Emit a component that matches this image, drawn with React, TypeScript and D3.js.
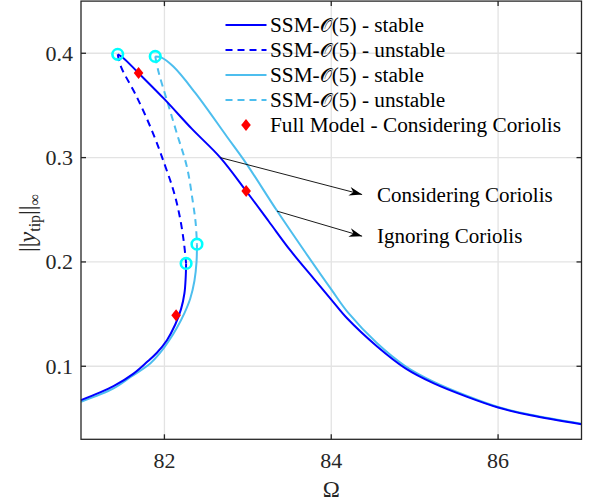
import React from 'react';
import * as d3 from 'd3';

// Omega / ||y_tip|| pairs
const blueStable: [number, number][] = [
  [81.44, 0.399], [81.5, 0.396], [81.69, 0.381], [82.0, 0.356], [82.33, 0.3275],
  [82.67, 0.3], [82.98, 0.268], [83.25, 0.239], [83.51, 0.211], [83.79, 0.184],
  [84.01, 0.163], [84.19, 0.146], [84.55, 0.119], [84.89, 0.098], [85.23, 0.0836],
  [85.63, 0.0707], [86.0, 0.0605], [86.39, 0.053], [87.0, 0.0445],
];
const blueLower: [number, number][] = [
  [82.26, 0.1986], [82.255, 0.185], [82.24, 0.17], [82.2, 0.155], [82.13, 0.14],
  [82.03, 0.125], [81.91, 0.113], [81.79, 0.104], [81.63, 0.093], [81.39, 0.081], [81.0, 0.0676],
];
const blueUnstable: [number, number][] = [
  [81.44, 0.399], [81.48, 0.387], [81.67, 0.358], [81.86, 0.324], [82.0, 0.294],
  [82.11, 0.268], [82.18, 0.245], [82.23, 0.221], [82.26, 0.1986],
];
const lightStable: [number, number][] = [
  [81.89, 0.397], [81.96, 0.396], [82.11, 0.387], [82.37, 0.362], [82.75, 0.32],
  [82.98, 0.2945], [83.35, 0.249], [83.67, 0.2114], [84.0, 0.1737], [84.21, 0.1506],
  [84.55, 0.122], [84.89, 0.1], [85.23, 0.085], [85.63, 0.0715], [86.0, 0.061],
  [86.39, 0.0535], [87.0, 0.045],
];
const lightLower: [number, number][] = [
  [82.39, 0.217], [82.385, 0.2], [82.36, 0.182], [82.31, 0.165], [82.24, 0.151],
  [82.15, 0.137], [82.05, 0.124], [81.95, 0.113], [81.83, 0.1027], [81.6, 0.09],
  [81.39, 0.0788], [81.0, 0.066],
];
const lightUnstable: [number, number][] = [
  [81.89, 0.397], [81.93, 0.382], [82.03, 0.355], [82.15, 0.323], [82.27, 0.291],
  [82.34, 0.258], [82.375, 0.237], [82.39, 0.217],
];
const bifurcations: [number, number][] = [
  [81.44, 0.399], [81.89, 0.397], [82.26, 0.1986], [82.39, 0.217],
];
const fullModel: [number, number][] = [[81.69, 0.381], [82.14, 0.149], [82.98, 0.268]];

const xTicks = [82, 84, 86];
const yTicks = [0.1, 0.2, 0.3, 0.4];

const legendItems = [
  { label: 'stable', color: '#0000ff', dash: false },
  { label: 'unstable', color: '#0000ff', dash: true },
  { label: 'stable', color: '#4dbeee', dash: false },
  { label: 'unstable', color: '#4dbeee', dash: true },
];

const annotations = [
  { text: 'Considering Coriolis', from: [82.67, 0.3], to: [84.37, 0.2646] },
  { text: 'Ignoring Coriolis', from: [83.35, 0.2487], to: [84.37, 0.2247] },
];

const W = 589;
const H = 502;
const x = d3.scaleLinear().domain([81, 87]).range([81, 581.5]);
const y = d3.scaleLinear().domain([0.03, 0.45]).range([439.3, 1.1]);

const line = d3.line<[number, number]>()
  .x(d => x(d[0]))
  .y(d => y(d[1]))
  .curve(d3.curveCatmullRom.alpha(0.5));

const axisColor = '#262626';

function arrowHead(x1: number, y1: number, x2: number, y2: number) {
  const a = Math.atan2(y2 - y1, x2 - x1);
  const L = 13, Wd = 4.5, back = 9;
  const p = (dx: number, dy: number) =>
    [x2 + dx * Math.cos(a) - dy * Math.sin(a), y2 + dx * Math.sin(a) + dy * Math.cos(a)];
  const pts = [p(0, 0), p(-L, -Wd), p(-back, 0), p(-L, Wd)];
  return pts.map(q => q.join(',')).join(' ');
}

function diamond(cx: number, cy: number, s = 6) {
  return `M${cx},${cy - s}L${cx + s * 0.8},${cy}L${cx},${cy + s}L${cx - s * 0.8},${cy}Z`;
}

export default function App() {
  const [x0, x1] = x.range();
  const [y0, y1] = y.range();
  return (
    <svg width={W} height={H}
      style={{ position: 'absolute', left: 0, top: 0, background: '#fff', fontFamily: 'Liberation Serif' }}>
      <rect x={0} y={0} width={W} height={H} fill="#fff" />
      {/* grid */}
      {xTicks.map(t => (
        <line key={'gx' + t} x1={x(t)} x2={x(t)} y1={y1} y2={y0} stroke="#e3e3e3" strokeWidth={1.3} />
      ))}
      {yTicks.map(t => (
        <line key={'gy' + t} x1={x0} x2={x1} y1={y(t)} y2={y(t)} stroke="#e3e3e3" strokeWidth={1.3} />
      ))}

      {/* curves */}
      <path d={line(blueUnstable)!} fill="none" stroke="#0000ff" strokeWidth={2} strokeDasharray="7 5" />
      <path d={line(lightUnstable)!} fill="none" stroke="#4dbeee" strokeWidth={2} strokeDasharray="7 5" />
      <path d={line(lightStable)!} fill="none" stroke="#4dbeee" strokeWidth={2} />
      <path d={line(lightLower)!} fill="none" stroke="#4dbeee" strokeWidth={2} />
      <path d={line(blueStable)!} fill="none" stroke="#0000ff" strokeWidth={2} />
      <path d={line(blueLower)!} fill="none" stroke="#0000ff" strokeWidth={2} />

      {bifurcations.map((d, i) => (
        <circle key={'c' + i} cx={x(d[0])} cy={y(d[1])} r={5.3} fill="none" stroke="#00ffff" strokeWidth={2.6} />
      ))}
      {fullModel.map((d, i) => (
        <path key={'d' + i} d={diamond(x(d[0]), y(d[1]))} fill="#ff0000" />
      ))}

      {/* annotations */}
      {annotations.map((a, i) => {
        const ax1 = x(a.from[0]), ay1 = y(a.from[1]);
        const ax2 = x(a.to[0]), ay2 = y(a.to[1]);
        return (
          <g key={'a' + i}>
            <line x1={ax1} y1={ay1} x2={ax2} y2={ay2} stroke="#000" strokeWidth={0.9} />
            <polygon points={arrowHead(ax1, ay1, ax2, ay2)} fill="#000" />
            <text x={ax2 + 15} y={ay2 + 7} fontSize={21} fill="#000">{a.text}</text>
          </g>
        );
      })}

      {/* legend */}
      {legendItems.map((it, i) => (
        <g key={'l' + i} transform={`translate(0,${25 + i * 25})`}>
          <line x1={225.5} x2={266.5} y1={0} y2={0} stroke={it.color} strokeWidth={2}
            strokeDasharray={it.dash ? '7 5' : undefined} />
          <text x={270} y={7} fontSize={21.3} fill="#000">
            SSM-<tspan style={{ fontFamily: 'DejaVu Serif' }} fontSize={19}>𝒪</tspan>(5) - {it.label}
          </text>
        </g>
      ))}
      <g transform="translate(0,125)">
        <path d={diamond(246, 0)} fill="#ff0000" />
        <text x={270} y={7} fontSize={21.3} fill="#000">Full Model - Considering Coriolis</text>
      </g>

      {/* axes box */}
      <rect x={x0} y={y1} width={x1 - x0} height={y0 - y1} fill="none" stroke={axisColor} strokeWidth={1.3} />
      {xTicks.map(t => (
        <g key={'tx' + t}>
          <line x1={x(t)} x2={x(t)} y1={y0} y2={y0 - 5} stroke={axisColor} strokeWidth={1.3} />
          <line x1={x(t)} x2={x(t)} y1={y1} y2={y1 + 5} stroke={axisColor} strokeWidth={1.3} />
          <text x={x(t)} y={468} textAnchor="middle" fontSize={22} fill={axisColor}>{t}</text>
        </g>
      ))}
      {yTicks.map(t => (
        <g key={'ty' + t}>
          <line x1={x0} x2={x0 + 5} y1={y(t)} y2={y(t)} stroke={axisColor} strokeWidth={1.3} />
          <line x1={x1} x2={x1 - 5} y1={y(t)} y2={y(t)} stroke={axisColor} strokeWidth={1.3} />
          <text x={73} y={y(t) + 7.5} textAnchor="end" fontSize={22} fill={axisColor}>{t.toFixed(1)}</text>
        </g>
      ))}

      {/* axis labels */}
      <text x={(x0 + x1) / 2} y={497} textAnchor="middle" fontSize={23} fill={axisColor}>Ω</text>
      <text transform="translate(35,223) rotate(-90)" textAnchor="middle" fontSize={24} fill={axisColor}>
        ||<tspan fontStyle="italic">y</tspan>
        <tspan fontSize={16} dy={5}>tip</tspan>
        <tspan dy={-5}>||</tspan>
        <tspan fontSize={16} dy={5}>∞</tspan>
      </text>
    </svg>
  );
}
